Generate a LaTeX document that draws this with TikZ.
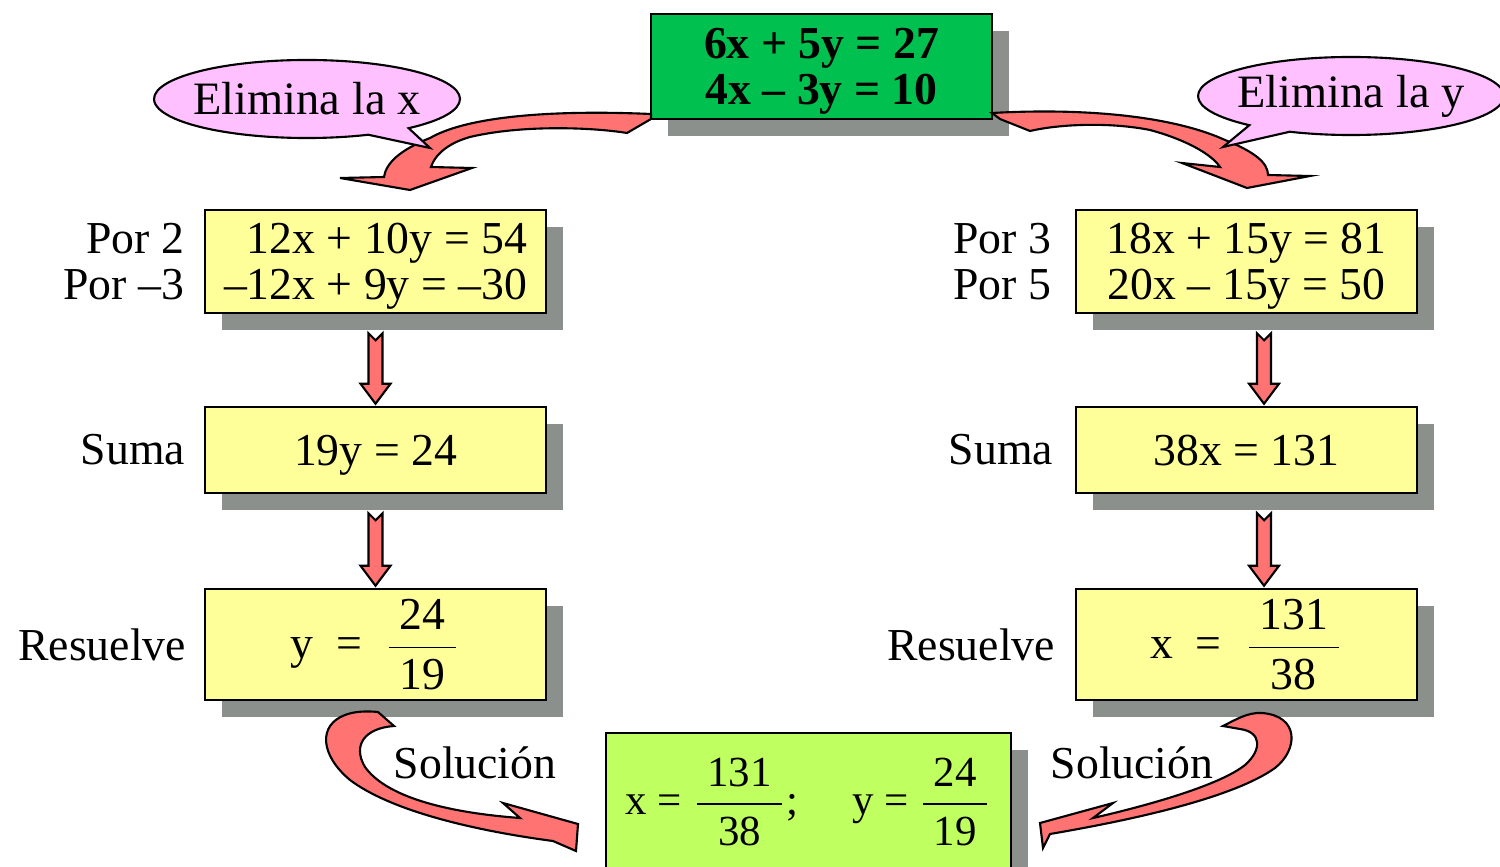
\documentclass[tikz,border=0pt]{standalone}
\usepackage{fontspec}
\setmainfont{Liberation Serif}
\usetikzlibrary{positioning,calc,shadows,shapes.callouts}

\definecolor{boxyellow}{RGB}{255,255,153}
\definecolor{topgreen}{RGB}{0,192,80}
\definecolor{limegreen}{RGB}{192,255,96}
\definecolor{arrowred}{RGB}{255,115,115}
\definecolor{bubblepink}{RGB}{255,192,255}
\definecolor{shadowgray}{RGB}{140,144,140}

\tikzset{
  stepbox/.style={draw=black, line width=0.7pt, fill=boxyellow, minimum width=3.41cm, inner sep=0pt,
    font=\fontsize{13}{13.2}\selectfont,
    drop shadow={shadow xshift=0.17cm, shadow yshift=-0.17cm, fill=shadowgray, opacity=1}},
  eqbox/.style={stepbox, text depth=0pt},
  sidelabel/.style={align=right, inner sep=0pt, font=\fontsize{13}{13.2}\selectfont},
  fatarrow/.style={draw=black, line width=0.6pt, fill=arrowred, line join=miter},
  bubble/.style={ellipse callout, draw=black, line width=0.6pt, fill=bubblepink, minimum width=3.04cm,
    minimum height=0.78cm, inner xsep=-1.5pt, inner ysep=0pt, callout pointer arc=18,
    font=\fontsize{13.2}{15}\selectfont}
}

% block arrow between two boxes (last argument: x offset)
\newcommand{\vflow}[3]{%
  \draw[fatarrow] ($(#1.south)+(#3-7,19)$) -- ($(#1.south)+(#3,26)$) -- ($(#1.south)+(#3+7,19)$)
    -- ($(#2.north)+(#3+7,-22)$) -- ($(#2.north)+(#3+15,-22)$) -- ($(#2.north)+(#3,-2)$)
    -- ($(#2.north)+(#3-15,-22)$) -- ($(#2.north)+(#3-7,-22)$) -- cycle;}
% fraction in the text font
\newcommand{\fr}[2]{$\displaystyle\frac{\hbox{\kern3pt#1\kern3pt}}{\hbox{\rule{0pt}{10.5pt}#2}}$}

\begin{document}
\begin{tikzpicture}[x=0.01cm, y=-0.01cm]
\useasboundingbox (0,0) rectangle (1500,867);

% the system
\node[eqbox, fill=topgreen, minimum height=1.05cm, align=center,
  font=\fontsize{13}{13}\selectfont\bfseries] (sys) at (821.5,66.5) {6x + 5y = 27\\4x -- 3y = 10};

% left column
\node[eqbox, minimum height=1.03cm, align=right] (lmul) at (375.5,261.5) {12x + 10y = 54\\--12x + 9y = --30};
\node[eqbox, minimum height=0.86cm] (lsum) at (375.5,450) {19y = 24};
\node[stepbox, minimum height=1.11cm] (lres) at (375.5,644.5) {y\enspace=\enspace\fr{24}{19}};
\node[sidelabel, left=0.19cm of lmul] (lmullab) {Por 2\\Por --3};
\node[sidelabel, left=0.18cm of lsum] (lsumlab) {Suma};
\node[sidelabel, left=0.17cm of lres] (lreslab) {Resuelve};

% right column
\node[eqbox, minimum height=1.03cm, align=center] (rmul) at (1246.5,261.5) {18x + 15y = 81\\20x -- 15y = 50};
\node[eqbox, minimum height=0.86cm] (rsum) at (1246.5,450) {38x = 131};
\node[stepbox, minimum height=1.11cm] (rres) at (1246.5,644.5) {x\enspace=\enspace\fr{131}{38}};
\node[sidelabel, left=0.23cm of rmul] (rmullab) {Por 3\\Por 5};
\node[sidelabel, left=0.21cm of rsum] (rsumlab) {Suma};
\node[sidelabel, left=0.19cm of rres] (rreslab) {Resuelve};

% result
\node[stepbox, fill=limegreen, minimum width=4.05cm, minimum height=1.38cm,
  font=\fontsize{12.2}{13}\selectfont] (final) at (808.5,802)
  {x = \fr{131}{38};\quad\ y = \fr{24}{19}};
\node[sidelabel] (lsoltxt) at (475,763) {Solución};
\node[sidelabel] (rsoltxt) at (1132,763) {Solución};

\vflow{lmul}{lsum}{0}
\vflow{lsum}{lres}{0}
\vflow{rmul}{rsum}{17.5}
\vflow{rsum}{rres}{17.5}

% curved arrows
\draw[fatarrow] (651,114) .. controls (560,110) and (470,115) .. (430,138)
  .. controls (400,150) and (386,163) .. (384,177) -- (340,178) -- (410,190) -- (472,168) -- (431,167)
  .. controls (436,152) and (452,142) .. (470,137) .. controls (520,125) and (590,127) .. (627,133)
  -- (651,119) -- cycle;
\draw[fatarrow] (992,113) .. controls (1080,108) and (1170,115) .. (1225,140)
  .. controls (1255,152) and (1268,163) .. (1268,175) -- (1310,176) -- (1247,188) -- (1182,163) -- (1220,167)
  .. controls (1210,152) and (1180,138) .. (1150,130) .. controls (1110,122) and (1060,124) .. (1030,131)
  -- (1000,119) -- cycle;
\draw[fatarrow] (378,712) -- (394,726) .. controls (365,728) and (352,745) .. (365,767)
  .. controls (385,795) and (440,812) .. (520,818) -- (503,803) -- (578,824) -- (576,851) -- (553,841)
  .. controls (470,830) and (390,810) .. (350,780) .. controls (320,755) and (318,725) .. (345,715)
  .. controls (355,711) and (368,711) .. (378,712) -- cycle;
\draw[fatarrow] (1223,726) .. controls (1235,720) and (1248,712) .. (1262,713)
  .. controls (1300,716) and (1298,750) .. (1275,768) .. controls (1230,800) and (1120,822) .. (1050,834)
  -- (1043,848) -- (1040,823) -- (1113,803) -- (1093,818)
  .. controls (1150,805) and (1220,785) .. (1245,765) .. controls (1262,750) and (1262,732) .. (1240,729)
  -- cycle;

% callouts
\node[bubble, callout absolute pointer={(430,148)}] (elimx) at (307,99) {Elimina la x};
\node[bubble, callout absolute pointer={(1223,147)}] (elimy) at (1351,96) {Elimina la y};
\end{tikzpicture}
\end{document}
